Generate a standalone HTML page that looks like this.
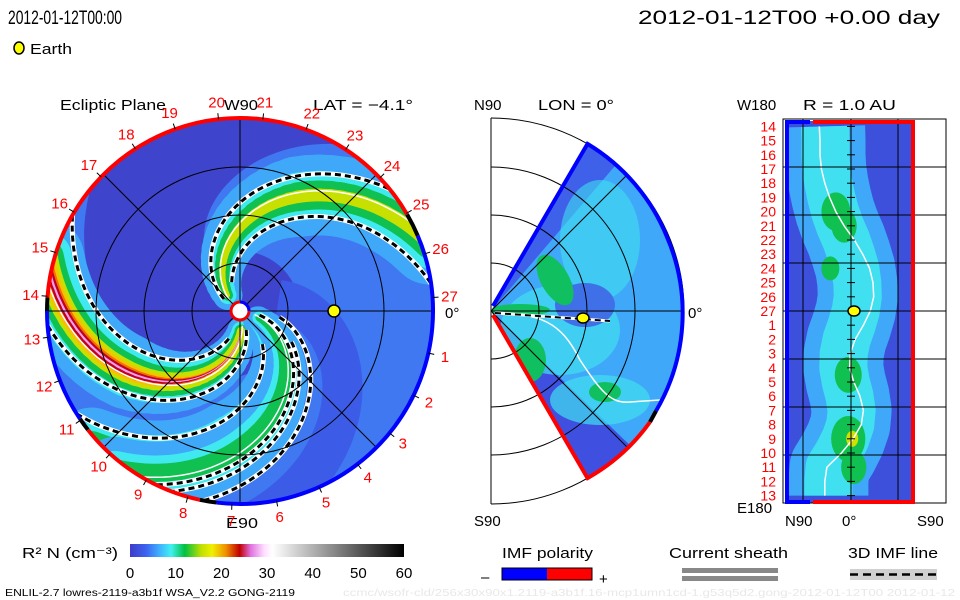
<!DOCTYPE html>
<html><head><meta charset="utf-8">
<style>
html,body{margin:0;padding:0;background:#fff;}
svg{display:block;font-family:"Liberation Sans",sans-serif;}
text{font-weight:normal}
</style></head>
<body>
<svg id="root" width="960" height="600" viewBox="0 0 960 600" xmlns="http://www.w3.org/2000/svg">
<defs>
<linearGradient id="cbar" x1="0" x2="1" y1="0" y2="0">
<stop offset="0" stop-color="#3c3cc8"/><stop offset="0.06" stop-color="#3c64f0"/><stop offset="0.11" stop-color="#40b4ff"/><stop offset="0.15" stop-color="#40f0f0"/><stop offset="0.2" stop-color="#00c040"/><stop offset="0.26" stop-color="#c0e000"/><stop offset="0.3" stop-color="#f0f000"/><stop offset="0.35" stop-color="#f09000"/><stop offset="0.4" stop-color="#c00000"/><stop offset="0.44" stop-color="#e070e0"/><stop offset="0.49" stop-color="#ffe0ff"/><stop offset="0.52" stop-color="#ffffff"/><stop offset="1" stop-color="#000000"/>
</linearGradient>
<clipPath id="eclClip"><circle cx="240" cy="311" r="193"/></clipPath>
<clipPath id="merClip"><path d="M491,311 L587.5,143.9 A193,193 0 0 1 587.5,478.1 Z"/></clipPath>
<clipPath id="rClip"><rect x="785" y="121" width="130" height="382"/></clipPath>
</defs>

<text x="8" y="24" font-size="19" textLength="114" lengthAdjust="spacingAndGlyphs">2012-01-12T00:00</text>
<text x="638" y="24" font-size="19" textLength="302" lengthAdjust="spacingAndGlyphs">2012-01-12T00 +0.00 day</text>
<g>
<ellipse cx="19" cy="48" rx="5" ry="6" fill="#ffff00" stroke="#000" stroke-width="1.5"/>
<text x="30" y="54" font-size="15" textLength="42" lengthAdjust="spacingAndGlyphs">Earth</text>
</g>

<!-- Ecliptic panel -->
<g id="ecl">
<text x="60" y="110" font-size="15" textLength="106" lengthAdjust="spacingAndGlyphs">Ecliptic Plane</text>
<text x="313" y="110" font-size="15" textLength="100" lengthAdjust="spacingAndGlyphs">LAT = −4.1°</text>
<text x="224" y="110" font-size="15" textLength="34" lengthAdjust="spacingAndGlyphs">W90</text>
<text x="226" y="528" font-size="15" textLength="32" lengthAdjust="spacingAndGlyphs">E90</text>
<text x="445" y="318" font-size="15">0°</text>
<circle cx="240" cy="311" r="193" fill="#3f78f0"/>
<g id="eclMarks" clip-path="url(#eclClip)"></g>
<g id="eclGrid" fill="none" stroke="#000" stroke-width="1"></g>
<g id="eclRing"></g>
<g id="eclDays"></g>
<circle cx="240" cy="311" r="9" fill="#fff" stroke="#e00" stroke-width="3"/>
<path d="M249,311 A9,9 0 0 0 240,302" stroke="#00f" stroke-width="3" fill="none"/>
<circle id="earthEcl" cx="334" cy="311" r="6" fill="#ffff00" stroke="#000" stroke-width="1.5"/>
</g>

<!-- Meridional panel -->
<g id="mer">
<text x="474" y="110" font-size="15">N90</text>
<text x="538" y="110" font-size="15" textLength="76" lengthAdjust="spacingAndGlyphs">LON = 0°</text>
<text x="474" y="526" font-size="15">S90</text>
<text x="688" y="318" font-size="15">0°</text>
<path d="M491,311 L587.5,143.9 A193,193 0 0 1 587.5,478.1 Z" fill="#40a8f8"/>
<g id="merMarks" clip-path="url(#merClip)"></g>
<g id="merGrid" fill="none" stroke="#000" stroke-width="1"></g>
<path d="M493,306 L587.5,143.9 A193,193 0 0 1 667,237 A193,193 0 0 1 656,411" fill="none" stroke="#0000ff" stroke-width="4"/>
<path d="M656,411 L650,422" stroke="#000" stroke-width="4"/>
<path d="M493,315 L587.5,478.1 A193,193 0 0 0 650,422" fill="none" stroke="#ff0000" stroke-width="4"/>
<line x1="495" y1="313" x2="610" y2="321" stroke="#fff" stroke-width="3"/>
<line x1="495" y1="313" x2="610" y2="321" stroke="#000" stroke-width="2" stroke-dasharray="6,4"/>
<ellipse cx="583" cy="318" rx="6" ry="5" fill="#ffff00" stroke="#000" stroke-width="1.5"/>
</g>

<!-- R = 1 AU panel -->
<g id="rp">
<text x="803" y="110" font-size="15" textLength="93" lengthAdjust="spacingAndGlyphs">R = 1.0 AU</text>
<text x="737" y="110" font-size="15">W180</text>
<text x="737" y="513" font-size="15">E180</text>
<text x="785" y="526" font-size="15">N90</text>
<text x="842" y="526" font-size="15">0°</text>
<text x="917" y="526" font-size="15">S90</text>
<rect x="785" y="121" width="130" height="382" fill="#3c50dc"/>
<g id="rMarks" clip-path="url(#rClip)"></g>
<g id="rGrid"></g>
<rect x="783" y="119" width="163" height="384" fill="none" stroke="#000" stroke-width="1"/>
<line x1="787" y1="121" x2="787" y2="503" stroke="#0000ff" stroke-width="4"/>
<line x1="913" y1="121" x2="913" y2="503" stroke="#ff0000" stroke-width="4"/>
<line x1="785" y1="122" x2="810" y2="122" stroke="#0000ff" stroke-width="4"/>
<line x1="813" y1="122" x2="915" y2="122" stroke="#ff0000" stroke-width="4"/>
<line x1="785" y1="502" x2="810" y2="502" stroke="#0000ff" stroke-width="4"/>
<line x1="813" y1="502" x2="915" y2="502" stroke="#ff0000" stroke-width="4"/>
<g id="rLabels"></g>
<ellipse id="earthR" cx="854" cy="311" rx="6" ry="5" fill="#ffff00" stroke="#000" stroke-width="1.5"/>
</g>

<!-- Colorbar -->
<g>
<text x="22" y="558" font-size="15" textLength="96" lengthAdjust="spacingAndGlyphs">R² N (cm⁻³)</text>
<rect x="130" y="544" width="274" height="13" fill="url(#cbar)"/>
<g id="cbTicks"></g>
</g>
<g>
<text x="502" y="558" font-size="15" textLength="91" lengthAdjust="spacingAndGlyphs">IMF polarity</text>
<rect x="502" y="568" width="45" height="12" fill="#0000ff"/>
<rect x="547" y="568" width="45" height="12" fill="#ff0000"/>
<rect x="502" y="568" width="90" height="12" fill="none" stroke="#000" stroke-width="1"/>
<text x="481" y="582" font-size="15">–</text>
<text x="599" y="584" font-size="15">+</text>
</g>
<g>
<text x="669" y="558" font-size="15" textLength="119" lengthAdjust="spacingAndGlyphs">Current sheath</text>
<rect x="682" y="568" width="96" height="5" fill="#888"/>
<rect x="682" y="576" width="96" height="5" fill="#888"/>
</g>
<g>
<text x="848" y="558" font-size="15" textLength="90" lengthAdjust="spacingAndGlyphs">3D IMF line</text>
<rect x="850" y="569" width="87" height="11" fill="#d0d0d0"/>
<line x1="850" y1="574.5" x2="937" y2="574.5" stroke="#000" stroke-width="2.5" stroke-dasharray="8,5"/>
</g>
<text x="5" y="596" font-size="10" textLength="290" lengthAdjust="spacingAndGlyphs">ENLIL-2.7 lowres-2119-a3b1f WSA_V2.2 GONG-2119</text>
<text x="343" y="596" font-size="10" fill="#e8e8e8" textLength="612" lengthAdjust="spacingAndGlyphs">ccmc/wsofr-cld/256x30x90x1.2119-a3b1f.16-mcp1umn1cd-1.g53q5d2.gong-2012-01-12T00   2012-01-12</text>
</svg>
<script>
// ---- data ----
const armPhase = [285, 343, 140, 352];      // spiral arm phase (deg at Sun)
const armPeak  = [38, 22, 18, 14];           // peak scaled density per arm
const armWidth = [58, 60, 62, 48];           // arm thickness scale
const dayLabels = [14,15,16,17,18,19,20,21,22,23,24,25,26,27,1,2,3,4,5,6,7,8,9,10,11,12,13];
const cbTickLabels = [0,10,20,30,40,50,60];
const sheathLat = [-46,-45,-45,-43,-38,-31,-22,-10,5,17,27,32,33,28,18,6,-1,-2,4,13,18,15,3,-14,-35,-38,-38]; // deg, per day row
const blobDay = [6, 7, 17.5, 22, 24, 10];    // green density patches (row index)
const blobLat = [-22, -10, -4, -4, 4, -30];
const blobVal = [16, 14, 15, 19, 14, 10];

const NS='http://www.w3.org/2000/svg';
function mk(tag, attrs, parent){const e=document.createElementNS(NS,tag);for(const k in attrs)e.setAttribute(k,attrs[k]);parent.appendChild(e);return e;}
const CX=240, CY=311, R=193;
function pol(r, deg){const a=deg*Math.PI/180;return [CX+r*Math.cos(a), CY-r*Math.sin(a)];}
function spiralPts(phase, r0, r1){const p=[];for(let r=r0;r<=r1;r+=3){p.push(pol(r, phase-0.6*r));}return p;}
function pstr(p){return p.map(q=>q[0].toFixed(1)+','+q[1].toFixed(1)).join(' ');}

// ---- ecliptic ----
const em=document.getElementById('eclMarks');
const dark=mk('polyline',{points:pstr(spiralPts(215,0,260)),fill:'none',stroke:'#3f44cc','stroke-width':120,'stroke-linecap':'round'},em);


mk('polyline',{points:pstr(spiralPts(40,40,260)),fill:'none',stroke:'#3c5ce8','stroke-width':40},em);
const levels=[[0,'#40a8f8',1.3],[6,'#40e8f0',0.95],[10,'#10c050',0.7],[15,'#c8e000',0.5],[19,'#f8c000',0.38],[24,'#f07000',0.3],[28,'#c00020',0.22],[33,'#f0a0f0',0.1]];
armPhase.forEach((ph,i)=>{
  levels.forEach(([thr,col,f])=>{
    if(armPeak[i]<=thr) return;
    const strength=(armPeak[i]-thr)/armPeak[i];
    for(let r=20;r<200;r+=6){
      const w=armWidth[i]*f*Math.min(1,0.25+r/170)*Math.sqrt(strength)*(thr>15?Math.min(1,r/120):1);
      const a=pol(r,ph-0.6*r), b=pol(r+7,ph-0.6*(r+7));
      const s=mk('line',{x1:a[0],y1:a[1],x2:b[0],y2:b[1],stroke:col,'stroke-width':Math.max(1,w),'stroke-linecap':'round'},em);
      
      
    }
  });
  const wl=mk('polyline',{points:pstr(spiralPts(ph+3,15,200)),fill:'none',stroke:'#fff','stroke-width':1.5},em);
  
  
});
[[300,20],[266,30],[155,20],[124,30],[360,20],[328,40],[15,40],[5,60]].forEach(([ph,r0])=>{
  const pts=pstr(spiralPts(ph,r0,200));
  mk('polyline',{points:pts,fill:'none',stroke:'#fff','stroke-width':5},em);
  const d=mk('polyline',{points:pts,fill:'none',stroke:'#000','stroke-width':3,'stroke-dasharray':'6,4'},em);
  
  
});
const eg=document.getElementById('eclGrid');
[48,96,144].forEach(r=>mk('circle',{cx:CX,cy:CY,r:r},eg));
[0,45,90,135].forEach(a=>{const p=pol(R,a),q=pol(R,a+180);mk('line',{x1:p[0],y1:p[1],x2:q[0],y2:q[1]},eg);});
const ring=document.getElementById('eclRing');
function arc(a0,a1,col){const p=pol(R,a0),q=pol(R,a1);const large=Math.abs(a1-a0)>180?1:0;
  const e=mk('path',{d:`M${p[0]},${p[1]} A${R},${R} 0 ${large} 0 ${q[0]},${q[1]}`,fill:'none',stroke:col,'stroke-width':4},ring);
  }
arc(30,176,'#ff0000');arc(176,180,'#000');arc(180,214,'#0000ff');arc(214,218,'#000');arc(218,258,'#ff0000');arc(258,263,'#000');arc(263,383,'#0000ff');arc(23,30,'#000');
const dg=document.getElementById('eclDays');
dayLabels.forEach((d,i)=>{
  const ang = i<=13 ? 4+(13-i)*13.2 : -12.6-(i-14)*13.3;
  const t1=pol(R,ang),t2=pol(R+6,ang);
  mk('line',{x1:t1[0],y1:t1[1],x2:t2[0],y2:t2[1],stroke:'#000','stroke-width':1},dg);
  const p=pol(R+17,ang);
  const t=mk('text',{x:p[0],y:p[1]+5,'font-size':15,fill:'#ff0000','text-anchor':'middle'},dg);
  t.textContent=d;
  
  
});

// ---- meridional ----
const mm=document.getElementById('merMarks');
function mpol(r,deg){const a=deg*Math.PI/180;return [491+r*Math.cos(a),311-r*Math.sin(a)];}
mk('path',{d:'M491,311 L587.5,143.9 A193,193 0 0 1 620,160 L491,311Z',fill:'#3f60e8'},mm);
mk('path',{d:'M491,311 L587.5,478.1 A193,193 0 0 0 640,455 L491,311Z',fill:'#3f50e0'},mm);
mk('ellipse',{cx:600,cy:240,rx:40,ry:60,fill:'#40e0f0',opacity:0.6},mm);
mk('ellipse',{cx:560,cy:330,rx:60,ry:45,fill:'#40e0f0',opacity:0.7},mm);
mk('ellipse',{cx:600,cy:400,rx:50,ry:25,fill:'#40e0f0',opacity:0.7},mm);
mk('ellipse',{cx:585,cy:305,rx:30,ry:22,fill:'#3f70e8'},mm);
mk('ellipse',{cx:555,cy:280,rx:14,ry:28,fill:'#10c060',transform:'rotate(-30 555 280)'},mm);
mk('ellipse',{cx:530,cy:360,rx:16,ry:22,fill:'#10c060'},mm);
mk('ellipse',{cx:605,cy:392,rx:16,ry:10,fill:'#10c060'},mm);
mk('ellipse',{cx:520,cy:310,rx:30,ry:6,fill:'#10c060'},mm);
mk('path',{d:'M495,312 C540,315 560,320 580,360 C600,390 610,404 630,402 L660,400',fill:'none',stroke:'#fff','stroke-width':1.5},mm);
const mg=document.getElementById('merGrid');
[48,96,144,193].forEach(r=>mk('path',{d:`M491,${311-r} A${r},${r} 0 0 1 491,${311+r}`},mg));
mk('line',{x1:491,y1:118,x2:491,y2:504},mg);
mk('line',{x1:491,y1:311,x2:682,y2:311},mg);
[45,-45].forEach(a=>{const p=mpol(193,a);mk('line',{x1:491,y1:311,x2:p[0],y2:p[1]},mm).setAttribute('stroke','#000');});

// ---- R=1AU panel ----
const rm=document.getElementById('rMarks');
const rowY=i=>311+(i-13)*14.2;
const latX=l=>851+l*(62/90);
const band=sheathLat.map((l,i)=>[latX(l*0.6-10),rowY(i)]);
mk('polyline',{points:pstr(band),fill:'none',stroke:'#40a8f8','stroke-width':80,'stroke-linejoin':'round'},rm);
mk('polyline',{points:pstr(band),fill:'none',stroke:'#40e0f0','stroke-width':48,'stroke-linejoin':'round'},rm);
blobDay.forEach((d,i)=>{
  const b=mk('ellipse',{cx:latX(blobLat[i]),cy:rowY(d),rx:blobVal[i]*0.9,ry:blobVal[i]*1.2,fill:'#10c050'},rm);
  
  
  if(blobVal[i]>17) mk('ellipse',{cx:latX(blobLat[i])+4,cy:rowY(d),rx:6,ry:8,fill:'#d0e000'},rm);
});
const sl=mk('polyline',{points:pstr(sheathLat.map((l,i)=>[latX(l),rowY(i)])),fill:'none',stroke:'#fff','stroke-width':1.5},rm);


const rg=document.getElementById('rGrid');
[803,851,898].forEach(x=>mk('line',{x1:x,y1:119,x2:x,y2:503,stroke:'#000','stroke-width':1},rg));
[167,215,263,311,359,407,455].forEach(y=>mk('line',{x1:783,y1:y,x2:946,y2:y,stroke:'#000','stroke-width':1},rg));
const rl=document.getElementById('rLabels');
dayLabels.forEach((d,i)=>{
  const y=rowY(i);
  mk('line',{x1:847,y1:y,x2:855,y2:y,stroke:'#000','stroke-width':1},rl);
  const t=mk('text',{x:776,y:y+5,'font-size':14,fill:'#ff0000','text-anchor':'end'},rl);
  t.textContent=d;
  
  
});

// ---- colorbar ticks ----
const cb=document.getElementById('cbTicks');
cbTickLabels.forEach((v,i)=>{
  const x=130+(v/60)*274;
  const t=mk('text',{x:x,y:578,'font-size':15,'text-anchor':'middle'},cb);
  t.textContent=v;
  
  
});
</script>
</body></html>
